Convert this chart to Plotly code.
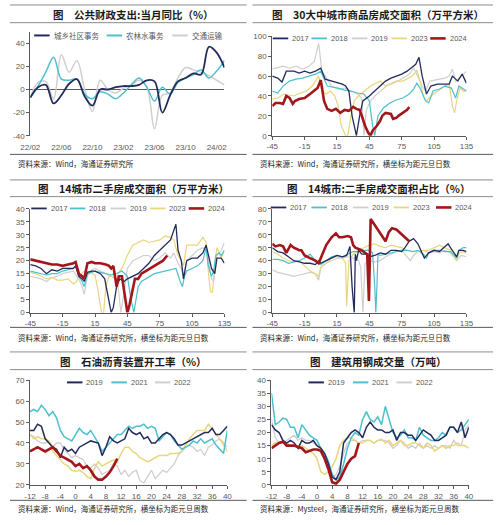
import plotly.graph_objects as go

W, H = 500, 525

# ======================= DATA =======================
# ---- Panel 1: 公共财政支出 当月同比 ----
p1_title = '图\u3000公共财政支出:当月同比（%）'
p1_source = '资料来源：Wind，海通证券研究所'
p1_months = ['22/02', '22/03', '22/04', '22/05', '22/06', '22/07', '22/08', '22/09', '22/10',
             '22/11', '22/12', '23/01', '23/02', '23/03', '23/04', '23/05', '23/06', '23/07',
             '23/08', '23/09', '23/10', '23/11', '23/12', '24/01', '24/02', '24/03']
p1_ticklabels = ['22/02', '22/06', '22/10', '23/02', '23/06', '23/10', '24/02']
p1_yticks = [-40, -20, 0, 20, 40]
p1_names = ['城乡社区事务', '农林水事务', '交通运输']
p1_urban = [-7, 2, 4, -12, -5, 5, 9, -6, -14, 0, 0, 2, 3, 3, 4, 8, 7, -20, -5, 7, 10, 14, 13, 37, 32, 19]
p1_agri = [-7, 3, 15, 28, 9, 8, 9, -4, -8, -2, -4, -8, -3, 4, 10, 2, -10, 2, -4, 6, 10, 13, 17, 10, 16, 25]
p1_transport = [-7, 6, 7, -8, 30, 15, 25, 0, -19, 8, 0, -3, 1, 4, 8, 2, -34, -5, -3, 10, 19, 17, 15, 12, 8, 4]

# ---- shared for daily panels ----
day_ticks = [-45, -15, 15, 45, 75, 105, 135]
year_names = ['2017', '2018', '2019', '2023', '2024']
src_days = '资料来源：Wind，海通证券研究所，横坐标为距元旦日数'

# ---- Panel 2: 30大中城市商品房成交面积 ----
p2_title = '图\u300030大中城市商品房成交面积（万平方米）'
p2_yticks = [0, 20, 40, 60, 80, 100]
p2_2017_x = [-45, -40, -36, -32, -25, -20, -15, -10, -5, 0, 4, 10, 15, 20, 23, 26, 29, 33, 36, 39, 45,
             50, 55, 60, 65, 70, 75, 80, 85, 88, 91, 94, 98, 102, 108, 114, 119, 122, 127, 131, 135]
p2_2017_y = [60, 58, 54, 65, 65, 63, 65, 63, 65, 68, 57, 55, 53, 52, 50, 45, 20, 0, 20, 35, 40,
             45, 50, 55, 58, 60, 62, 65, 70, 72, 79, 60, 42, 50, 52, 52, 52, 60, 55, 62, 53]
p2_2018_x = [-45, -40, -35, -29, -23, -17, -11, -5, 0, 3, 6, 16, 22, 28, 34, 40, 45, 48, 50, 53,
             58, 64, 70, 76, 82, 86, 89, 92, 97, 100, 104, 110, 115, 121, 125, 128, 133, 135]
p2_2018_y = [45, 43, 50, 55, 57, 58, 60, 62, 65, 57, 50, 48, 46, 45, 43, 42, 35, 10, 0, 20,
             28, 33, 36, 38, 42, 47, 53, 48, 35, 33, 45, 47, 50, 48, 38, 50, 47, 45]
p2_2019_x = [-45, -35, -29, -23, -17, -11, -6, -2, 1, 4, 10, 16, 22, 28, 34, 38, 40, 42, 46, 50,
             55, 61, 67, 73, 79, 83, 86, 89, 94, 97, 101, 109, 115, 119, 122, 125, 128, 131, 135]
p2_2019_y = [67, 70, 68, 70, 67, 70, 75, 93, 65, 60, 50, 47, 48, 45, 42, 38, 0, 25, 35, 40,
             45, 50, 53, 56, 60, 63, 68, 62, 50, 45, 55, 57, 58, 60, 67, 55, 58, 62, 65]
p2_2023_x = [-45, -40, -34, -25, -19, -13, -8, -5, -2, 1, 5, 9, 13, 16, 19, 23, 25, 28, 31, 35,
             40, 46, 50, 55, 60, 64, 70, 76, 80, 85, 89, 92, 95, 98, 102, 108, 115, 119, 122, 124,
             126, 129, 132, 135]
p2_2023_y = [37, 38, 42, 40, 43, 45, 50, 55, 60, 45, 42, 45, 40, 30, 10, 0, 0, 20, 35, 40,
             45, 50, 52, 55, 50, 52, 55, 55, 57, 60, 66, 55, 40, 35, 40, 45, 50, 52, 30, 23,
             35, 48, 45, 45]
p2_2024_x = [-45, -42, -38, -35, -32, -29, -26, -24, -20, -15, -10, -6, -3, 0, 3, 6, 10, 14, 18, 22,
             26, 28, 30, 33, 36, 38, 41, 44, 46, 48, 52, 55, 57, 60, 63, 65, 67, 70, 72, 75,
             77, 80, 82]
p2_2024_y = [30, 33, 33, 32, 40, 38, 32, 35, 37, 38, 42, 45, 48, 56, 35, 27, 25, 27, 23, 26,
             25, 27, 29, 27, 26, 20, 10, 3, 0, 5, 10, 15, 20, 23, 22, 22, 17, 18, 20, 22,
             24, 26, 29]

# ---- Panel 3: 14城市二手房成交面积 ----
p3_title = '图\u300014城市二手房成交面积（万平方米）'
p3_yticks = [0, 5, 10, 15, 20, 25, 30, 35, 40]
p3_2017_x = [-45, -40, -35, -30, -25, -20, -15, -10, -5, -3, 0, 3, 5, 8, 12, 15, 20, 24, 27, 30,
             32, 35, 38, 42, 45, 50, 55, 60, 65, 70, 75, 80, 85, 90, 92, 95, 97, 100, 105, 110,
             115, 118, 120, 123, 126, 128, 132, 135]
p3_2017_y = [18.5, 18, 17, 15, 16.5, 16, 17, 17, 17, 18, 14, 13, 12, 15.5, 16, 16, 15, 13, 7, 0,
             2, 10, 13, 12, 13, 14, 15, 17, 19, 22, 24, 26, 28, 34, 24, 20, 13, 20, 21, 21,
             23, 26, 22, 17, 15, 21, 21, 19]
p3_2018_x = [-45, -40, -35, -30, -25, -20, -15, -10, -5, -3, 0, 3, 5, 8, 12, 15, 20, 25, 30, 35,
             40, 45, 48, 51, 53, 55, 58, 62, 66, 70, 75, 80, 85, 90, 94, 96, 98, 100, 105, 110,
             115, 118, 120, 123, 125, 127, 130, 132, 135]
p3_2018_y = [16, 15.5, 15, 14.5, 15, 15, 16, 16.5, 17, 18, 14, 12, 10, 15, 15.5, 16, 15.5, 15, 14.5, 15,
             16, 14, 6, 0, 5, 10, 12, 13, 14, 15, 15.5, 16, 16.5, 17, 12, 10, 14, 16, 17, 18,
             20, 25, 18, 14, 16, 22, 23, 22, 24]
p3_2019_x = [-45, -40, -35, -30, -25, -20, -15, -10, -5, 0, 3, 5, 8, 12, 15, 20, 25, 30, 35, 37,
             39, 42, 45, 50, 55, 60, 65, 70, 75, 80, 85, 88, 92, 95, 97, 100, 105, 110, 115, 118,
             120, 123, 125, 128, 132, 135]
p3_2019_y = [14, 13.5, 13, 12, 13.5, 14, 15, 15.5, 16, 13, 10, 7, 14, 16.5, 17, 16, 15, 14, 13, 8,
             0, 8, 17, 20, 21, 22, 22, 20, 21, 23, 21, 23, 19, 17, 14, 20, 22, 24, 25, 24,
             20, 13, 12, 22, 24, 27]
p3_2023_x = [-45, -40, -35, -30, -25, -20, -15, -10, -5, -2, 0, 5, 10, 15, 18, 21, 23, 25, 28, 32,
             36, 40, 45, 50, 55, 60, 65, 70, 75, 80, 85, 88, 92, 95, 97, 100, 105, 110, 115, 118,
             120, 122, 124, 126, 128, 132, 135]
p3_2023_y = [15.5, 15, 14, 13, 13.5, 12.5, 12.5, 13, 11, 12, 14, 16, 15.5, 14.5, 8, 0, 0, 10, 14, 15,
             15, 17, 22, 26, 27, 28, 27, 27.5, 28, 29.5, 29, 28, 22, 20, 18, 26, 26, 26, 29, 27,
             16, 8, 8, 19, 25, 21, 24]
p3_2024_x = [-45, -40, -35, -30, -25, -20, -15, -10, -5, -3, 0, 3, 5, 8, 12, 15, 20, 25, 28, 30,
             32, 35, 37, 40, 42, 45, 47, 50, 52, 55, 58, 62, 66, 70, 74, 78, 82]
p3_2024_y = [20.5, 20, 19.5, 19, 18.5, 18.5, 18, 18.5, 19, 19.5, 15, 14, 13, 19, 19.5, 19, 19, 18.5, 18, 17,
             18, 10, 14, 14, 8, 0, 3, 10, 13, 13, 15, 16, 17, 18, 19, 20, 22]

# ---- Panel 4: 14城市 二手房成交面积占比 ----
p4_title = '图\u300014城市:二手房成交面积占比（%）'
p4_yticks = [0, 10, 20, 30, 40, 50, 60, 70, 80]
p4_2017_x = [-45, -40, -35, -30, -25, -20, -15, -10, -5, -2, 0, 5, 10, 15, 20, 24, 27, 29, 31, 32,
             33, 35, 38, 42, 45, 50, 55, 60, 65, 70, 75, 78, 82, 86, 90, 93, 96, 100, 105, 110,
             115, 118, 121, 124, 126, 128, 132, 135]
p4_2017_y = [50, 47, 46, 43, 40, 39, 38, 38, 37, 40, 38, 40, 42, 44, 43, 44, 51, 20, 0, 45,
             40, 48, 45, 45, 43, 44, 46, 45, 48, 48, 47, 50, 55, 57, 53, 48, 42, 46, 48, 47,
             51, 53, 49, 45, 43, 48, 48, 47]
p4_2018_x = [-45, -40, -35, -30, -25, -20, -15, -10, -5, 0, 5, 10, 15, 20, 25, 30, 35, 40, 45, 48,
             50, 51, 52, 53, 55, 60, 65, 70, 75, 80, 85, 90, 95, 98, 100, 105, 110, 115, 120, 124,
             126, 128, 132, 135]
p4_2018_y = [41, 41, 40, 38, 39, 40, 42, 45, 40, 37, 40, 43, 44, 43, 45, 47, 47, 48, 48, 46,
             20, 0, 20, 45, 44, 45, 46, 47, 48, 48, 47, 48, 45, 42, 46, 48, 48, 47, 47, 44,
             42, 48, 50, 50]
p4_2019_x = [-45, -40, -35, -30, -25, -20, -15, -10, -5, -2, 0, 5, 10, 15, 20, 25, 30, 35, 37, 39,
             41, 45, 50, 55, 60, 65, 70, 75, 80, 83, 86, 90, 95, 100, 105, 110, 115, 120, 124, 126,
             130, 135]
p4_2019_y = [33, 31, 30, 29, 28, 29, 30, 31, 30, 25, 35, 38, 40, 42, 42, 43, 42, 40, 35, 0,
             38, 40, 39, 40, 43, 45, 47, 48, 43, 40, 44, 47, 48, 46, 47, 46, 48, 46, 42, 40,
             44, 43]
p4_2023_x = [-45, -40, -35, -30, -25, -20, -15, -10, -5, -2, 0, 5, 10, 15, 20, 23, 24, 25, 26, 30,
             35, 40, 45, 50, 55, 60, 65, 70, 75, 80, 85, 90, 95, 100, 105, 110, 115, 120, 124, 126,
             128, 132, 135]
p4_2023_y = [47, 45, 42, 40, 39, 40, 36, 32, 30, 28, 35, 38, 42, 43, 42, 38, 5, 20, 40, 45,
             48, 50, 52, 53, 51, 50, 52, 51, 50, 48, 47, 47, 48, 48, 50, 52, 50, 48, 43, 40,
             46, 47, 46]
p4_2024_x = [-45, -42, -38, -35, -32, -28, -25, -20, -18, -15, -10, -5, -2, 0, 5, 10, 14, 17, 20, 25,
             28, 30, 32, 35, 38, 41, 43, 44.6, 46.2, 48, 52, 55, 58, 60, 63, 66, 70, 74, 76, 79,
             82]
p4_2024_y = [53, 51, 52, 51, 46, 52, 50, 48, 48, 44, 42, 40, 38, 42, 52, 58, 61, 58, 58, 59,
             58, 52, 50, 49, 48, 46, 45, 9, 72, 70, 65, 62, 58, 55, 62, 65, 64, 61, 60, 57,
             55]

# ---- shared for weekly panels ----
weeks = [-12, -11, -10, -9, -8, -7, -6, -5, -4, -3, -2, -1, 0, 1, 2, 3, 4, 5, 6, 7, 8, 9, 10,
         11, 12, 13, 14, 15, 16, 17, 18, 19, 20, 21, 22, 23, 24, 25, 26, 27, 28, 29, 30, 31,
         32, 33, 34, 35, 36, 37, 38, 39, 40]
week_ticks = [-12, -8, -4, 0, 4, 8, 12, 16, 20, 24, 28, 32, 36, 40]
week_names = ['2019', '2021', '2022', '2023', '2024']

# ---- Panel 5: 石油沥青装置开工率 ----
p5_title = '图\u3000石油沥青装置开工率（%）'
p5_source = '资料来源：Wind，海通证券研究所，横坐标为距元旦周数'
p5_yticks = [20, 30, 40, 50, 60, 70]
p5_2019 = [46, 46, 49, 48, 42, 40, 38, 37, 33, 38, 36, 37, 35, 38, 39, 40, 41, 40.5, 40, 34,
           38, 43, 41, 40, 41, 42, 47, 45, 44, 45, 42, 43, 40, 40, 42, 44, 45, 44, 42, 39,
           39, 40, 41, 42, 43, 44, 45, 45, 47, 44, 44, 46, 48]
p5_2021 = [55, 56, 55, 58, 56, 53, 55, 52, 46, 43, 42, 41, 44, 47, 45, 44, 46, 43, 40, 36,
           38, 40, 42, 44, 44, 46, 48, 47, 48, 48, 49, 47, 48, 47, 41, 43, 45, 44, 41, 39,
           37, 38, 39, 41, 40, 42, 40, 41, 42, 39, 37, 35, 46]
p5_2022 = [44, 43, 41, 40, 40, 41, 38, 40, 40, 37, 35, 33, 34, 33, 32, 29, 28, 30, 28, 25,
           26, 27, 30, 29, 25, 27, 24, 26, 27, 22, 21, 24, 27, 23, 25, 27, 26, 28, 30, 34,
           36, 38, 39, 38, 36, 37, 34, 38, 39, 41, 42, 40, 38]
p5_2023 = [44, 42, 43, 42, 42, 41, 36, 34, 32, 30, 29, 27, 26.5, 27, 26, 24, 23, 28, 31, 29,
           30, 31, 32, 31, 35, 38, 38, 36, 35, 33, 32, 31, 32, 33, 34, 34, 34, 35, 35, 35,
           36, 39, 42, 44, 46, 46, 46, 49, 47, 44, 42, 39, 36]
p5_2024 = [36, 37, 38, 37, 36, 37, 38, 36, 34, 33, 32, 31, 29, 30, 28, 29, 27, 24, 22.5, 22.5,
           24, 26, 29, 32.5]

# ---- Panel 6: 建筑用钢成交量 ----
p6_title = '图\u3000建筑用钢成交量（万吨）'
p6_source = '资料来源：Mysteel，海通证券研究所，横坐标为距元旦周数'
p6_yticks = [0, 5, 10, 15, 20, 25, 30, 35, 40]
p6_2019 = [23, 21, 20, 17, 16, 17, 16, 14, 17, 16, 16, 17, 15, 14, 12, 8, 3, 2, 5, 16,
           18, 20, 21, 20, 18, 22, 24, 22, 21, 21, 20, 20, 21, 17, 20, 20, 19, 19, 17, 19,
           21, 20, 19, 17, 17, 18, 19, 22, 22, 20, 24, 18, 22]
p6_2021 = [35, 23, 24, 25.5, 25, 22, 22, 18, 23, 21, 19, 18, 17, 14, 12, 9, 4, 2, 3, 8,
           14, 18, 20, 19, 25, 28, 25, 24, 26, 23, 30, 25, 20, 18, 19, 21, 18, 18, 17, 22,
           19, 18, 17, 17, 18, 20, 19, 22, 22, 20, 21, 23, 25]
p6_2022 = [25, 18, 16, 16, 17, 18, 19, 17, 18, 17, 17, 16, 15, 13, 10, 6, 3, 4, 7, 12,
           16, 17, 17, 16, 17, 17, 17, 16, 17, 17, 17, 16, 14, 15, 17, 16, 14, 15, 14, 16,
           14, 15, 14, 15, 14, 15, 15, 14, 17, 15, 15, 21, 23]
p6_2023 = [15, 16, 16, 16.5, 16, 15, 15, 14, 15, 14, 13, 12, 10, 5, 4, 5, 7, 10, 15, 17,
           18, 18, 17, 16, 16, 17, 17, 16, 17, 17.5, 16, 17, 15, 16, 17, 15, 15, 16, 16, 15,
           14, 16, 15, 13, 14, 15, 14, 15, 15, 16, 15, 15, 14]
p6_2024 = [14, 15, 16, 16.5, 15, 15, 15, 14.5, 14, 12.5, 13, 13.5, 13.5, 13, 10, 6, 1, 0.5, 2, 5,
           8, 10, 11, 16]

# ======================= STYLE =======================
NAVY = '#232b5c'
TEAL = '#4cc0cc'
GRAY = '#cfcfcf'
YELLOW = '#e9d57e'
RED = '#a3161b'
AXC = '#595959'
TXT = '#595959'
CJK = 'Noto Sans CJK SC'
LAT = 'Liberation Sans, Arial, sans-serif'


def fx(p):
    return p / W


def fy(p):
    return 1 - p / H


fig = go.Figure()
shapes = []
annotations = []


def setup_axes(i, xdom, ydom, xrange, yrange, xtv, xtt, ytv, zero_axis=False):
    sfx = '' if i == 1 else str(i)
    xa = dict(domain=[fx(xdom[0]), fx(xdom[1])], range=xrange, anchor='y' + sfx,
              tickmode='array', tickvals=xtv, ticktext=xtt,
              showgrid=False, zeroline=False, fixedrange=True,
              tickfont=dict(family=LAT, size=8, color=TXT))
    if zero_axis:
        xa.update(showline=False, ticks='outside', ticklen=4, tickcolor='rgba(0,0,0,0)')
    else:
        xa.update(showline=True, linecolor=AXC, linewidth=1, ticks='outside', ticklen=3,
                  tickcolor=AXC, tickwidth=1)
    ya = dict(domain=[fy(ydom[1]), fy(ydom[0])], range=yrange, anchor='x' + sfx,
              tickmode='array', tickvals=ytv, ticktext=[str(v) for v in ytv],
              showgrid=False, showline=True, linecolor=AXC, linewidth=1,
              ticks='outside', ticklen=3, tickcolor=AXC, tickwidth=1, fixedrange=True,
              zeroline=zero_axis, zerolinecolor=AXC, zerolinewidth=1,
              tickfont=dict(family=LAT, size=8, color=TXT))
    fig.layout['xaxis' + sfx] = xa
    fig.layout['yaxis' + sfx] = ya


def add_line(i, x, y, color, width, spline=False):
    sfx = '' if i == 1 else str(i)
    line = dict(color=color, width=width)
    if spline:
        line.update(shape='spline', smoothing=1.0)
    fig.add_trace(go.Scatter(x=x, y=y, mode='lines', line=line, xaxis='x' + sfx,
                             yaxis='y' + sfx, showlegend=False, hoverinfo='skip'))


def panel_frame(left, top, title, source, title_cx):
    x0, x1 = (0, 245) if left == 0 else (251, 500)
    top_line, title_y, under, sep, src_y = top
    for yy, col in [(top_line, '#8c8c8c'), (under, '#8c8c8c'), (sep, '#595959')]:
        shapes.append(dict(type='line', xref='paper', yref='paper', x0=fx(x0), x1=fx(x1),
                           y0=fy(yy), y1=fy(yy), line=dict(color=col, width=1)))
    annotations.append(dict(text='<b>' + title + '</b>', xref='paper', yref='paper',
                            x=fx(title_cx), y=fy(title_y), xanchor='center', yanchor='middle',
                            showarrow=False, font=dict(family=CJK, size=10.5, color='#1a1a1a')))
    annotations.append(dict(text=source, xref='paper', yref='paper', x=fx(x0 + 6), y=fy(src_y),
                            xanchor='left', yanchor='middle', showarrow=False,
                            font=dict(family=CJK, size=7.5, color='#262626')))


def legend(items, y, font_family):
    for (name, color, width, xs) in items:
        shapes.append(dict(type='line', xref='paper', yref='paper', x0=fx(xs), x1=fx(xs + 16),
                           y0=fy(y), y1=fy(y), line=dict(color=color, width=width)))
        annotations.append(dict(text=name, xref='paper', yref='paper', x=fx(xs + 18), y=fy(y),
                                xanchor='left', yanchor='middle', showarrow=False,
                                font=dict(family=font_family, size=7.5, color=TXT)))


ROW1 = (1, 11, 19, 153, 162)
ROW2 = (179, 188, 196, 329, 339)
ROW3 = (354, 364, 372, 505, 513)

# ---------------- Panel 1 ----------------
p1_x = list(range(len(p1_months)))
p1_tv = [p1_months.index(t) for t in p1_ticklabels]
setup_axes(1, (21, 222), (28.25, 134), [0, len(p1_months) - 1], [-40, 50],
           p1_tv, p1_ticklabels, p1_yticks, zero_axis=True)
add_line(1, p1_x, p1_transport, GRAY, 1.5, spline=True)
add_line(1, p1_x, p1_agri, TEAL, 1.5, spline=True)
add_line(1, p1_x, p1_urban, NAVY, 1.8, spline=True)
panel_frame(0, ROW1, p1_title, p1_source, 128)
legend([(p1_names[0], NAVY, 2, 25), (p1_names[1], TEAL, 2, 100), (p1_names[2], GRAY, 2, 168)],
       32, CJK)

day_tt = [str(v) for v in day_ticks]
year_colors = [NAVY, TEAL, GRAY, YELLOW, RED]
year_widths = [1.3, 1.2, 1.2, 1.2, 2.6]

# ---------------- Panel 2 ----------------
setup_axes(2, (271.5, 472.5), (33, 134), [-45, 135], [0, 100], day_ticks, day_tt, p2_yticks)
p2_data = [(p2_2017_x, p2_2017_y), (p2_2018_x, p2_2018_y), (p2_2019_x, p2_2019_y),
           (p2_2023_x, p2_2023_y), (p2_2024_x, p2_2024_y)]
for k in [2, 3, 1, 0, 4]:
    add_line(2, p2_data[k][0], p2_data[k][1], year_colors[k], year_widths[k])
panel_frame(1, ROW1, p2_title, src_days, 381)
legend([(year_names[k], year_colors[k], 2.6 if k == 4 else 1.8, xs)
        for k, xs in enumerate([272, 312, 354, 395, 435])], 35, LAT)

# ---------------- Panel 3 ----------------
setup_axes(3, (21, 222), (208.3, 314), [-45, 135], [0, 40], day_ticks, day_tt, p3_yticks)
p3_data = [(p3_2017_x, p3_2017_y), (p3_2018_x, p3_2018_y), (p3_2019_x, p3_2019_y),
           (p3_2023_x, p3_2023_y), (p3_2024_x, p3_2024_y)]
for k in [2, 3, 1, 0, 4]:
    add_line(3, p3_data[k][0], p3_data[k][1], year_colors[k], year_widths[k])
panel_frame(0, ROW2, p3_title, src_days, 128)
legend([(year_names[k], year_colors[k], 2.6 if k == 4 else 1.8, xs)
        for k, xs in enumerate([22, 62, 104, 145, 185])], 208, LAT)

# ---------------- Panel 4 ----------------
setup_axes(4, (271.5, 472.5), (208.3, 314), [-45, 135], [0, 80], day_ticks, day_tt, p4_yticks)
p4_data = [(p4_2017_x, p4_2017_y), (p4_2018_x, p4_2018_y), (p4_2019_x, p4_2019_y),
           (p4_2023_x, p4_2023_y), (p4_2024_x, p4_2024_y)]
for k in [2, 3, 1, 0, 4]:
    add_line(4, p4_data[k][0], p4_data[k][1], year_colors[k], year_widths[k])
panel_frame(1, ROW2, p4_title, src_days, 381)
legend([(year_names[k], year_colors[k], 2.6 if k == 4 else 1.8, xs)
        for k, xs in enumerate([270, 312, 355, 397, 441])], 207, LAT)

week_tt = [str(v) for v in week_ticks]
wk_colors = [NAVY, TEAL, GRAY, YELLOW, RED]
wk_widths = [1.5, 1.5, 1.3, 1.5, 2.6]

# ---------------- Panel 5 ----------------
setup_axes(5, (20.7, 225), (382.7, 489.3), [-12, 40], [20, 70], week_ticks, week_tt, p5_yticks)
p5_series = [p5_2019, p5_2021, p5_2022, p5_2023, p5_2024]
for k in [2, 3, 1, 0, 4]:
    s = p5_series[k]
    add_line(5, weeks[:len(s)], s, wk_colors[k], wk_widths[k])
panel_frame(0, ROW3, p5_title, p5_source, 128)
legend([(week_names[k], wk_colors[k], 2, xs) for k, xs in enumerate([59, 105, 150])], 385, LAT)

# ---------------- Panel 6 ----------------
setup_axes(6, (270.7, 475), (382.7, 489.3), [-12, 40], [0, 40], week_ticks, week_tt, p6_yticks)
p6_series = [p6_2019, p6_2021, p6_2022, p6_2023, p6_2024]
for k in [2, 3, 1, 0, 4]:
    s = p6_series[k]
    add_line(6, weeks[:len(s)], s, wk_colors[k], wk_widths[k])
panel_frame(1, ROW3, p6_title, p6_source, 381)
legend([(week_names[k], wk_colors[k], 2, xs) for k, xs in enumerate([309, 355, 400])], 385, LAT)

fig.update_layout(width=W, height=H, autosize=False, showlegend=False,
                  margin=dict(l=0, r=0, t=0, b=0),
                  paper_bgcolor='white', plot_bgcolor='white',
                  shapes=shapes, annotations=annotations)

fig.write_html('out.html', config={'displayModeBar': False},
               post_script="document.body.style.margin='0';document.body.style.padding='0';")
